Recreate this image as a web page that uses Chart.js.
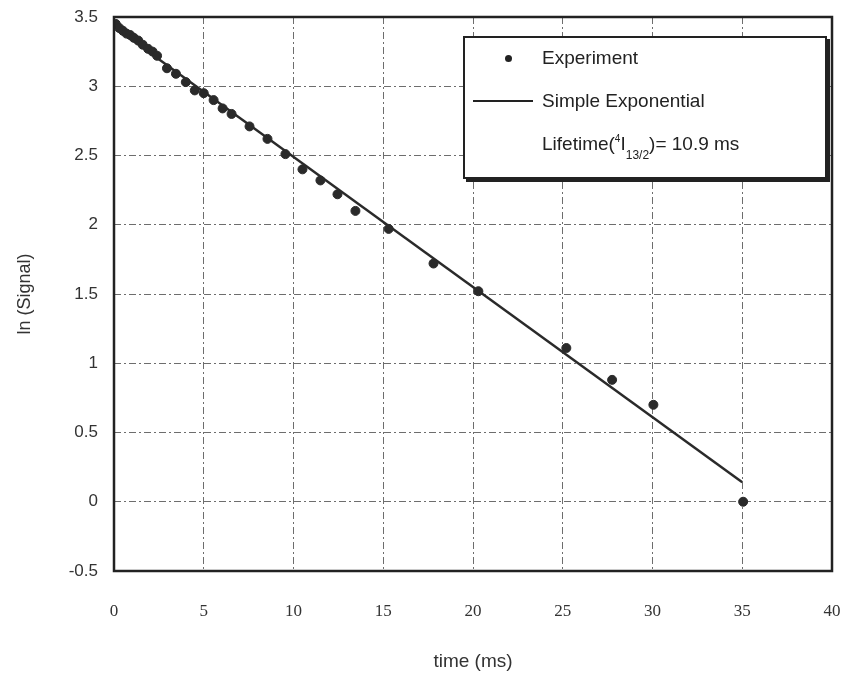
<!DOCTYPE html>
<html>
<head>
<meta charset="utf-8">
<script src="https://cdn.jsdelivr.net/npm/chart.js@4"></script>
<style>
  body { margin: 0; background: #fff; }
  #wrap { position: relative; width: 845px; height: 679px; }
  #legendBox {
    position: absolute; left: 463px; top: 36px; width: 360px; height: 139px;
    border: 2px solid #222; box-shadow: 3px 3px 0 #222; background: #fff;
    font-family: "Liberation Sans", Arial, sans-serif; font-size: 19px; color: #222;
  }
  #legendBox .row { position: absolute; left: 77px; line-height: 22px; }
  #legendBox .dot { position: absolute; left: 40px; top: 17px; width: 7px; height: 7px; border-radius: 50%; background: #222; }
  #legendBox .ln { position: absolute; left: 8px; top: 62px; width: 60px; height: 2px; background: #222; }
  sup { font-size: 10px; vertical-align: 8px; }
  sub { font-size: 12px; vertical-align: -9px; }
</style>
</head>
<body>
<div id="wrap">
  <canvas id="grafica" width="845" height="679"></canvas>
  <div id="legendBox">
    <span class="dot"></span>
    <div class="row" style="top:9px">Experiment</div>
    <span class="ln"></span>
    <div class="row" style="top:52px">Simple Exponential</div>
    <div class="row" style="top:90px">Lifetime(<sup>4</sup>I<sub>13/2</sub>)= 10.9 ms</div>
  </div>
</div>
<script>
/* ===============================
   DATOS
================================= */
let tiempo = [0.1, 0.3, 0.5, 0.7, 0.9, 1.1, 1.35, 1.6, 1.9, 2.15, 2.4, 2.95, 3.45, 4.0, 4.5, 5.0,
              5.55, 6.05, 6.55, 7.55, 8.55, 9.55, 10.5, 11.5, 12.45, 13.45, 15.3, 17.8, 20.3,
              25.2, 27.75, 30.05, 35.05];
let lnSenal = [3.45, 3.42, 3.40, 3.38, 3.37, 3.35, 3.33, 3.30, 3.27, 3.25, 3.22, 3.13, 3.09, 3.03, 2.97, 2.95,
               2.90, 2.84, 2.80, 2.71, 2.62, 2.51, 2.40, 2.32, 2.22, 2.10, 1.97, 1.72, 1.52,
               1.11, 0.88, 0.70, 0.0];
let ajusteTiempo = [0, 35];
let ajusteValor = [3.43, 0.14];

let ticksX = [0, 5, 10, 15, 20, 25, 30, 35, 40];
let ticksY = [-0.5, 0, 0.5, 1, 1.5, 2, 2.5, 3, 3.5];

/* ===============================
   MARCO DEL AREA
================================= */
const marco = {
    id: "marco",
    afterDraw(chart) {
        let a = chart.chartArea;
        let ctx = chart.ctx;
        ctx.save();
        ctx.strokeStyle = "#222";
        ctx.lineWidth = 2.5;
        ctx.strokeRect(a.left, a.top, a.right - a.left, a.bottom - a.top);
        ctx.restore();
    }
};

let rejilla = {
    color: "rgba(60,60,60,0.75)",
    lineWidth: 1,
    drawTicks: false
};

new Chart(document.getElementById("grafica").getContext("2d"), {
    type: "scatter",
    data: {
        datasets: [{
            label: "Experiment",
            data: tiempo.map((t, i) => ({ x: t, y: lnSenal[i] })),
            backgroundColor: "#2a2a2a",
            borderColor: "#2a2a2a",
            pointRadius: 4.5,
            showLine: false
        }, {
            label: "Simple Exponential",
            data: ajusteTiempo.map((t, i) => ({ x: t, y: ajusteValor[i] })),
            borderColor: "#2a2a2a",
            borderWidth: 2.5,
            pointRadius: 0,
            showLine: true
        }]
    },
    options: {
        responsive: false,
        animation: false,
        layout: { padding: { top: 17, right: 13, left: 0, bottom: 0 } },
        plugins: {
            legend: { display: false },
            tooltip: { enabled: false }
        },
        scales: {
            x: {
                type: "linear",
                min: 0,
                max: 40,
                afterFit(scale) {
                    scale.height = 108;
                    scale.paddingLeft = 0;
                    scale.paddingRight = 0;
                },
                afterBuildTicks(scale) { scale.ticks = ticksX.map(v => ({ value: v })); },
                grid: Object.assign({ borderDash: [7, 3, 2, 3] }, rejilla),
                border: { display: false, dash: [7, 3, 2, 3] },
                ticks: {
                    padding: 30,
                    color: "#333",
                    font: { family: "Liberation Serif", size: 17 }
                },
                title: {
                    display: true,
                    text: "time (ms)",
                    color: "#333",
                    padding: { bottom: 6 },
                    font: { family: "Liberation Sans", size: 19 }
                }
            },
            y: {
                type: "linear",
                min: -0.5,
                max: 3.5,
                afterFit(scale) {
                    scale.width = 114;
                    scale.paddingTop = 0;
                    scale.paddingBottom = 0;
                },
                afterBuildTicks(scale) { scale.ticks = ticksY.map(v => ({ value: v })); },
                grid: rejilla,
                border: { display: false, dash: [7, 3, 2, 3] },
                ticks: {
                    padding: 16,
                    color: "#333",
                    font: { family: "Liberation Sans", size: 17 },
                    callback: v => String(v)
                },
                title: {
                    display: true,
                    text: "ln (Signal)",
                    color: "#333",
                    padding: { top: 14 },
                    font: { family: "Liberation Sans", size: 18 }
                }
            }
        }
    },
    plugins: [marco]
});
</script>
</body>
</html>
